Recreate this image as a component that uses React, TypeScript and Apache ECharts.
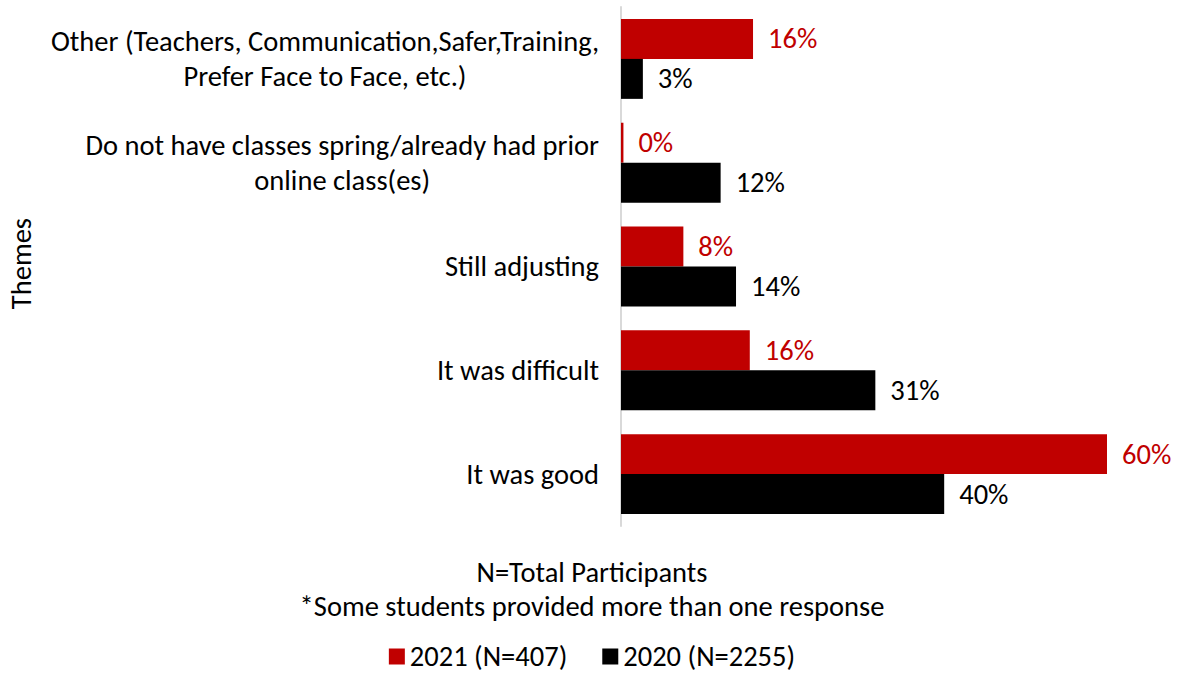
import React, { useEffect, useRef } from "react";
import * as echarts from "echarts";

const categories = [
  "It was good",
  "It was difficult",
  "Still adjusting",
  "Do not have classes spring/already had prior\nonline class(es)",
  "Other (Teachers, Communication,Safer,Training,\nPrefer Face to Face, etc.)",
];
const series2021 = [60, 15.9, 7.7, 0.3, 16.3];
const series2020 = [39.9, 31.4, 14.2, 12.3, 2.7];
const seriesNames = ["2021 (N=407)", "2020 (N=2255)"];
const footerLines = ["N=Total Participants", "*Some students provided more than one response"];
const axisTitle = "Themes";

const FONT = "Carlito, Lato, sans-serif";
const FS = 28.5;
const RED = "#C00000";

export default function App() {
  const ref = useRef<HTMLDivElement>(null);
  useEffect(() => {
    if (!ref.current) return;
    const chart = echarts.init(ref.current, null, { renderer: "svg" });
    const label = (color: string) => ({
      show: true,
      position: "right",
      distance: 15,
      color,
      fontSize: FS,
      fontFamily: FONT,
      formatter: (p: any) => `${Math.round(p.value)}%`,
    });
    chart.setOption({
      animation: false,
      textStyle: { fontFamily: FONT },
      grid: { left: 621, right: 77, top: 7, bottom: 147, containLabel: false },
      xAxis: { type: "value", min: 0, max: 60, show: false },
      yAxis: {
        type: "category",
        data: categories,
        axisLine: { show: true, lineStyle: { color: "#D9D9D9", width: 2 } },
        axisTick: { show: false },
        axisLabel: {
          margin: 22,
          fontSize: FS,
          color: "#000",
          fontFamily: FONT,
          lineHeight: 35,
          formatter: (v: string) =>
            v
              .split("\n")
              .map((l) => `{c|${l}}`)
              .join("\n"),
          rich: {
            c: { align: "center", fontSize: FS, color: "#000", fontFamily: FONT, lineHeight: 35 },
          },
        },
      },
      legend: {
        bottom: 2,
        padding: 0,
        left: "center",
        itemWidth: 16,
        itemHeight: 16,
        itemGap: 35,
        icon: "rect",
        textStyle: { fontSize: FS, color: "#000", fontFamily: FONT },
        data: seriesNames,
      },
      graphic: [
        {
          type: "text",
          left: 7,
          top: 218,
          rotation: Math.PI / 2,
          style: { text: axisTitle, fontSize: FS, fill: "#000", fontFamily: FONT },
        },
        ...footerLines.map((t, i) => ({
          type: "text",
          left: "center",
          top: 558 + i * 34,
          style: { text: t, fontSize: FS, fill: "#000", fontFamily: FONT },
        })),
      ],
      series: [
        {
          name: seriesNames[0],
          type: "bar",
          data: series2021,
          itemStyle: { color: RED },
          barGap: "0%",
          barCategoryGap: "23%",
          label: label(RED),
        },
        {
          name: seriesNames[1],
          type: "bar",
          data: series2020,
          itemStyle: { color: "#000" },
          barGap: "0%",
          barCategoryGap: "23%",
          label: label("#000"),
        },
      ],
    });
    return () => chart.dispose();
  }, []);
  return (
    <div
      ref={ref}
      style={{ position: "fixed", left: 0, top: 0, width: 1184, height: 673, background: "#fff" }}
    />
  );
}
